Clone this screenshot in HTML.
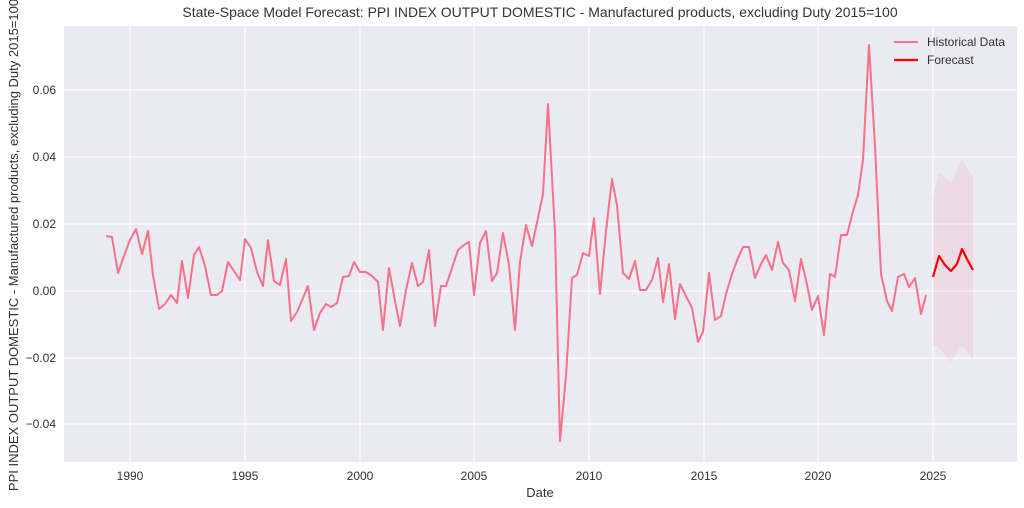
<!DOCTYPE html>
<html><head><meta charset="utf-8"><style>
body{margin:0;background:#fff;}
svg{display:block;font-family:"Liberation Sans",sans-serif;}
</style></head><body>
<svg width="1024" height="508" viewBox="0 0 1024 508">
<rect x="64" y="26" width="953" height="436" fill="#eaeaf2"/>
<g stroke="#fff" stroke-width="1.2">
<line x1="130" y1="26" x2="130" y2="462"/><line x1="245" y1="26" x2="245" y2="462"/>
<line x1="360" y1="26" x2="360" y2="462"/><line x1="474" y1="26" x2="474" y2="462"/>
<line x1="589" y1="26" x2="589" y2="462"/><line x1="704" y1="26" x2="704" y2="462"/>
<line x1="818" y1="26" x2="818" y2="462"/><line x1="933" y1="26" x2="933" y2="462"/>
<line x1="64" y1="90" x2="1017" y2="90"/><line x1="64" y1="157" x2="1017" y2="157"/>
<line x1="64" y1="224" x2="1017" y2="224"/><line x1="64" y1="291" x2="1017" y2="291"/>
<line x1="64" y1="358" x2="1017" y2="358"/><line x1="64" y1="424" x2="1017" y2="424"/>
</g>
<g font-size="12" fill="#333" text-anchor="end">
<text x="56" y="94">0.06</text><text x="56" y="161">0.04</text><text x="56" y="228">0.02</text>
<text x="56" y="295">0.00</text><text x="56" y="362">−0.02</text><text x="56" y="428">−0.04</text>
</g>
<g font-size="12" fill="#333" text-anchor="middle">
<text x="130" y="480">1990</text><text x="245" y="480">1995</text><text x="360" y="480">2000</text>
<text x="474" y="480">2005</text><text x="589" y="480">2010</text><text x="704" y="480">2015</text>
<text x="818" y="480">2020</text><text x="933" y="480">2025</text>
<text x="540" y="497" font-size="13">Date</text>
<text x="540" y="17" font-size="14">State-Space Model Forecast: PPI INDEX OUTPUT DOMESTIC - Manufactured products, excluding Duty 2015=100</text>
</g>
<text transform="translate(18,245) rotate(-90)" font-size="13" fill="#333" text-anchor="middle">PPI INDEX OUTPUT DOMESTIC - Manufactured products, excluding Duty 2015=100</text>
<polygon points="933,198 939,172 951,183 962,160 973,177 973,360 962,346 951,362 939,348 933,345" fill="#f4a0b0" fill-opacity="0.2"/>
<polyline fill="none" stroke="#f77189" stroke-width="2" stroke-linejoin="round" points="106,236 112,237 118,273 124,256 130,240 136,229 142,254 148,231 153,275 159,309 165,304 171,295 177,303 182,261 188,298 194,255 199,247 205,266 211,295 217,295 222,291 228,262 234,271 240,280 245,239 251,248 257,272 263,286 268,240 274,281 280,285 286,259 291,321 297,312 303,298 308,286 314,330 320,313 326,304 331,307 337,303 343,277 349,276 354,262 360,272 366,272 372,276 378,282 383,330 389,268 395,301 400,326 406,290 412,263 418,286 423,282 429,250 435,326 441,286 446,286 452,268 458,250 464,245 469,242 474,295 480,243 486,231 492,281 497,273 503,233 509,265 515,330 520,262 526,225 532,246 538,218 543,194 548,104 555,232 560,441 566,376 572,278 577,275 583,253 589,256 594,218 600,294 606,231 612,179 617,205 623,273 629,279 635,261 640,290 646,290 652,280 658,258 663,302 669,264 675,319 680,284 686,296 692,308 698,342 703,332 709,273 715,320 721,316 726,294 732,274 738,258 743,247 749,247 755,278 761,264 766,255 772,270 778,242 783,263 789,270 795,301 801,259 806,280 812,310 818,296 824,335 830,274 835,277 841,235 847,235 852,215 858,195 863,160 869,45 875,146 881,274 887,301 892,311 898,277 904,274 909,287 915,278 921,314 926,295"/>
<polyline fill="none" stroke="#ff0000" stroke-width="2.2" stroke-linejoin="round" points="933,277 939,256 945,265 951,271 957,264 962,249 968,261 973,270"/>
<line x1="894" y1="42" x2="918" y2="42" stroke="#f77189" stroke-width="2"/>
<line x1="894" y1="60" x2="918" y2="60" stroke="#ff0000" stroke-width="2.2"/>
<text x="927" y="46" font-size="12" fill="#333">Historical Data</text>
<text x="927" y="64" font-size="12" fill="#333">Forecast</text>
</svg>
</body></html>
